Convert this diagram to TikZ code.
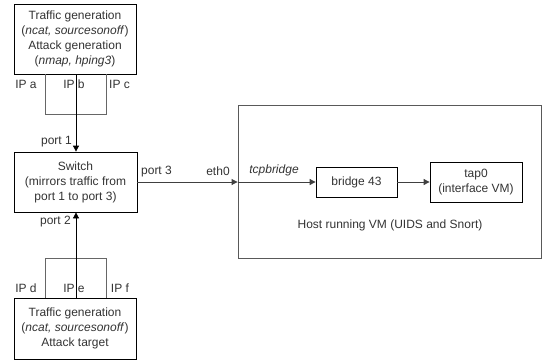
\documentclass[tikz,border=0pt]{standalone}
\usepackage{fontspec}
\setmainfont{Liberation Sans}
\usetikzlibrary{arrows.meta}
\begin{document}
\begin{tikzpicture}[x=1pt,y=-1pt,
  every node/.style={font=\fontsize{12}{15}\selectfont, inner sep=0pt},
  box/.style={draw=black, line width=0.8pt, align=center, text=black!80},
  hostbox/.style={draw=black!65, line width=0.9pt},
  brk/.style={draw=black!60, line width=0.9pt},
  arr/.style={draw=black!75, line width=0.9pt, -{Triangle[length=6pt,width=6pt]}},
  varr/.style={draw=black, line width=0.8pt, -{Triangle[length=6pt,width=6pt]}},
  lbl/.style={text=black!80}]
\useasboundingbox (0,0) rectangle (543,362);
% boxes
\node[box, minimum width=122pt, minimum height=70pt] (top) at (75,39)
  {Traffic generation\\(\textit{ncat, sourcesonoff})\\Attack generation\\(\textit{nmap, hping3})};
\node[box, minimum width=123pt, minimum height=60pt] (sw) at (75.5,182)
  {Switch\\(mirrors traffic from\\port 1 to port 3)};
\node[box, minimum width=122pt, minimum height=61pt] (bot) at (75,328.5)
  {Traffic generation\\(\textit{ncat, sourcesonoff})\\Attack target};
\node[hostbox, minimum width=303pt, minimum height=153pt] (host) at (389.5,181.5) {};
\node[box, minimum width=81pt, minimum height=30pt] (br) at (356.5,182) {bridge 43};
\node[box, minimum width=92pt, minimum height=40pt] (tap) at (476,182) {tap0\\(interface VM)};
\node[lbl] (hostlbl) at (390,225) {Host running VM (UIDS and Snort)};
% brackets
\coordinate (ba1) at (45,74); \coordinate (ba2) at (45,114);
\coordinate (ba3) at (106,114); \coordinate (ba4) at (106,74);
\draw[brk] (ba1) -- (ba2) -- (ba3) -- (ba4);
\coordinate (bb1) at (45,298); \coordinate (bb2) at (45,258);
\coordinate (bb3) at (106,258); \coordinate (bb4) at (106,298);
\draw[brk] (bb1) -- (bb2) -- (bb3) -- (bb4);
% vertical arrows
\draw[varr] (top.south -| 76,0) -- (sw.north -| 76,0);
\draw[varr] (bot.north -| 76,0) -- (sw.south -| 76,0);
% horizontal arrows
\draw[arr] (sw.east) -- (host.west |- sw.east);
\draw[arr] (host.west |- br.west) -- (br.west);
\draw[arr] (br.east) -- (tap.west);
% labels
\node[lbl] (ipa) at (26,84) {IP a};
\node[lbl] (ipb) at (74,84) {IP b};
\node[lbl] (ipc) at (119.5,84) {IP c};
\node[lbl, anchor=east] (p1) at (72,142) {port 1};
\node[lbl, anchor=east] (p2) at (71,222) {port 2};
\node[lbl] (ipd) at (26,288) {IP d};
\node[lbl] (ipe) at (74,288) {IP e};
\node[lbl] (ipf) at (120,288) {IP f};
\node[lbl] (p3) at (156.5,171.5) {port 3};
\node[lbl] (eth) at (218,171.5) {eth0};
\node[lbl] (tcp) at (274,170.5) {\textit{tcpbridge}};
\end{tikzpicture}
\end{document}
